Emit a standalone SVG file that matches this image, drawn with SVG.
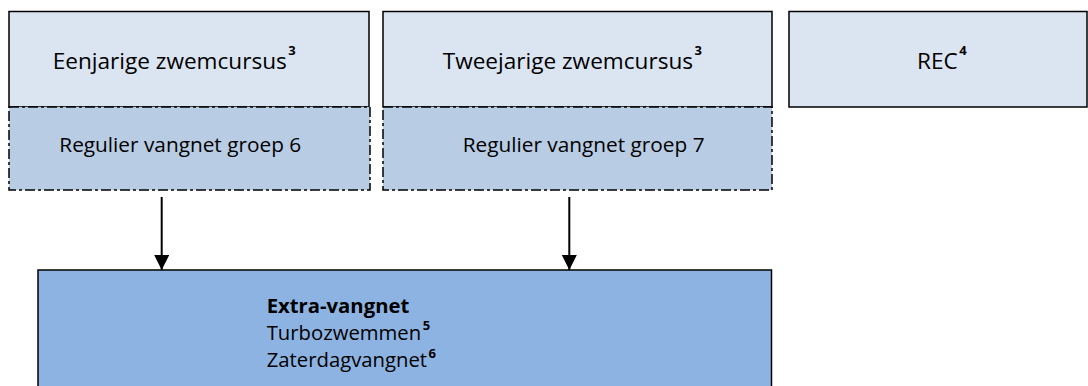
<svg xmlns="http://www.w3.org/2000/svg" width="1088" height="386" viewBox="0 0 1088 386">
<style>
.top{fill:#dbe5f1;stroke:#000;stroke-width:1.5}
.dash{fill:#b8cce4;stroke:#000;stroke-width:1.5;stroke-dasharray:10 3 3 3}
.bot{fill:#8db3e2;stroke:#000;stroke-width:1.5}
text{font-family:"Open Sans","Liberation Sans",sans-serif;fill:#000}
.big{font-size:22.6px}
.mid{font-size:20.8px}
.low{font-size:20.3px}
.sup{font-size:13px;font-weight:bold}
.b{font-weight:bold}
.conn{stroke:#000;stroke-width:2;fill:none}
</style>
<defs>
<marker id="ah" markerUnits="userSpaceOnUse" markerWidth="16" markerHeight="16" refX="15" refY="7.5" orient="auto">
<path d="M0,0 L15,7.5 L0,15 Z" fill="#000"/>
</marker>
</defs>
<g id="node-eenjarige">
<rect class="top" x="9" y="11.5" width="360" height="95.5"/>
<text class="big" x="52.7" y="69.3">Eenjarige zwemcursus<tspan class="sup" dx="1.5" dy="-14">3</tspan></text>
</g>
<g id="node-regulier6">
<rect class="dash" x="9" y="107" width="361" height="83"/>
<text class="mid" x="59.3" y="151.7">Regulier vangnet groep 6</text>
</g>
<g id="node-tweejarige">
<rect class="top" x="383" y="11.5" width="389" height="95.5"/>
<text class="big" x="442.7" y="69.3">Tweejarige zwemcursus<tspan class="sup" dx="1.5" dy="-14">3</tspan></text>
</g>
<g id="node-regulier7">
<rect class="dash" x="383" y="107" width="389" height="83"/>
<text class="mid" x="462.7" y="151.7">Regulier vangnet groep 7</text>
</g>
<g id="node-rec">
<rect class="top" x="789" y="11.5" width="298" height="95.5"/>
<text class="big" x="917" y="69.3">REC<tspan class="sup" dx="1.5" dy="-14">4</tspan></text>
</g>
<g id="node-extra">
<rect class="bot" x="38" y="270" width="733.5" height="125"/>
<text class="low b" x="266.7" y="313.3">Extra-vangnet</text>
<text class="low" x="266.7" y="340">Turbozwemmen<tspan class="sup" dx="1.5" dy="-10">5</tspan></text>
<text class="low" x="266.7" y="367.3">Zaterdagvangnet<tspan class="sup" dx="1.5" dy="-9">6</tspan></text>
</g>
<g id="connectors">
<line class="conn" x1="161.7" y1="197" x2="161.7" y2="270" marker-end="url(#ah)"/>
<line class="conn" x1="569.3" y1="197" x2="569.3" y2="270" marker-end="url(#ah)"/>
</g>
</svg>
